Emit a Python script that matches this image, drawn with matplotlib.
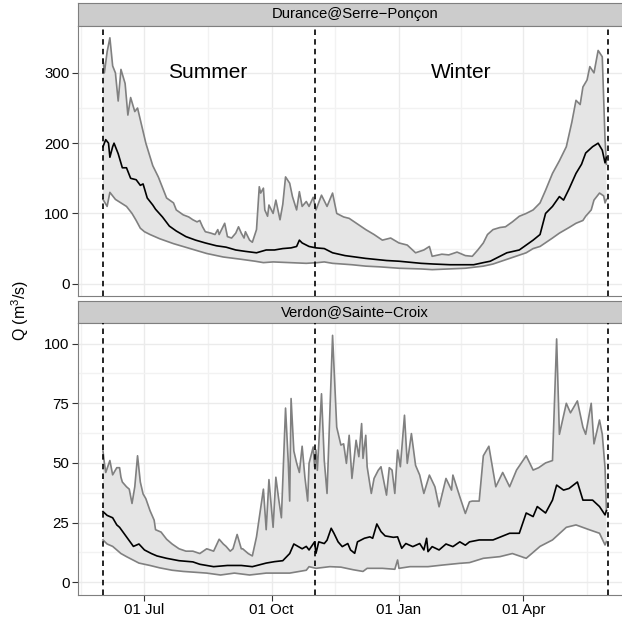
import numpy as np
import matplotlib
matplotlib.use("Agg")
import matplotlib.pyplot as plt
import matplotlib.dates as mdates
from datetime import date, timedelta

plt.rcParams["font.family"] = ["Liberation Sans", "DejaVu Sans"]
plt.rcParams["mathtext.fontset"] = "custom"
plt.rcParams["mathtext.rm"] = "Liberation Sans"
plt.rcParams["mathtext.default"] = "regular"

START = date(2001, 6, 1)

# --- Durance@Serre-Ponçon: day offset from 1 June, discharge (m3/s) ---
dur_up_day = [0, 1.5, 3, 5.8, 7, 9, 11, 13.5, 16, 18, 20.7, 23, 25.5, 28, 31.6, 36, 40,
              46, 51, 53.3, 58, 62, 65.3, 68, 70, 72.5, 74.9, 78.6, 81, 83.4, 84.6, 88.2,
              90.6, 93, 96, 98, 100.3, 102.7, 103.9, 106.3, 108.7, 111, 113, 114.7, 116,
              117.9, 119.5, 120.7, 123.2, 125.6, 128, 130.4, 132.8, 135.2, 137.6, 140,
              142, 144.9, 147.3, 149.7, 152, 154.5, 158, 162, 166.5, 169, 174, 178.5,
              184, 190.6, 196, 202.7, 208, 214.7, 220, 226.8, 232, 236.4, 238.8, 245,
              250.9, 256, 262, 267.7, 271, 275, 278, 282, 287, 291.8, 296, 301.5, 306,
              311, 316, 320.8, 325.6, 330, 335.2, 339, 342.4, 345, 347.3, 350, 352, 355,
              358, 361.7, 363.7, 364]
dur_up_q = [320, 300, 330, 350, 310, 300, 260, 305, 285, 240, 265, 245, 250, 225, 200,
            168, 152, 122, 115, 105, 98, 95, 91, 88, 90, 81, 74, 72, 70, 77, 70, 86, 67,
            65, 72, 81, 72, 65, 74, 62, 59, 77, 138, 129, 136, 105, 96, 112, 100, 119,
            91, 113, 152, 143, 124, 105, 131, 110, 117, 110, 123, 105, 126, 110, 129,
            100, 95, 93, 85, 77, 70, 62, 65, 58, 55, 44, 48, 53, 39, 42, 41, 45, 40, 39,
            48, 58, 70, 77, 80, 81, 88, 96, 100, 105, 115, 133, 157, 175, 195, 230, 261,
            255, 280, 290, 309, 300, 332, 323, 205, 170]

dur_med_day = [0, 2, 4, 5, 7, 8.7, 11, 14.7, 17, 20.7, 24, 27, 29, 32.8, 36, 38.8, 43.6,
               48.4, 53.3, 60.5, 67.7, 74.9, 82, 89.4, 96.6, 103.9, 111, 118.4, 124,
               130.4, 136, 140, 142, 144.9, 149.7, 154.5, 160, 166.5, 175, 190.6, 205,
               214.7, 230, 239, 251, 268, 275, 280, 292, 301.5, 311, 316, 320.8, 325, 330,
               333, 337, 342.4, 346, 349.7, 354, 358, 361, 363.5, 364]
dur_med_q = [195, 205, 200, 180, 195, 200, 185, 165, 165, 150, 148, 140, 142, 122, 112,
             106, 95, 82, 75, 67, 62, 58, 54, 52, 48, 46, 44, 48, 48, 50, 51, 53, 62, 58,
             53, 51, 50, 44, 40, 36, 33, 32, 29, 28, 27, 27, 30, 32, 44, 48, 62, 70, 100,
             110, 124, 119, 135, 157, 170, 186, 195, 200, 190, 172, 180]

dur_lo_day = [0, 3, 5, 9, 13, 17, 21, 24, 27, 30, 34, 41, 51, 63, 75, 87, 99, 110, 116,
              123, 135, 147, 155, 160, 166.5, 180, 190.6, 200, 214.7, 230, 238.8, 250,
              262.9, 275, 282, 291.8, 300, 306.3, 311, 316, 325, 330, 337, 342.4, 347,
              349.7, 353, 355, 359.3, 362, 363.7, 364]
dur_lo_q = [120, 110, 130, 120, 115, 110, 100, 90, 79, 74, 70, 64, 57, 50, 43, 38, 35,
            32, 30, 31, 30, 29, 30, 31, 29, 27, 25, 24, 22, 21, 20, 21, 22, 25, 28, 34,
            40, 44, 50, 53, 65, 72, 80, 86, 90, 96, 105, 119, 129, 125, 115, 120]

# --- Verdon@Sainte-Croix ---
ver_up_day = [0, 1.5, 2.7, 5, 7, 8.7, 10, 12.3, 13.5, 14.7, 17, 19.5, 21.9, 23, 25.5, 27,
              29, 31, 34, 37, 38.8, 42, 46, 50, 55.7, 60, 65.3, 70, 75, 80, 84.6, 87,
              89.4, 92, 94.2, 97.9, 100, 101.5, 105, 108.7, 111, 113, 116, 118.3, 120.7,
              123, 125.6, 127, 129, 132.3, 134, 135, 136.4, 138.8, 140, 142.5, 144, 146,
              148.4, 149.7, 152.1, 153.3, 154.5, 155.7, 158.1, 160.5, 162.9, 166, 169,
              172.6, 174, 176.2, 178.1, 180.5, 183, 185.3, 187, 188.7, 190.2, 191.9,
              194.2, 196, 199.1, 201.5, 205.1, 207.5, 209.9, 211.9, 213.5, 215.2, 218.3,
              220.8, 223.9, 226.8, 229.2, 232.9, 236.4, 240, 243.6, 248.4, 252.1, 253.8,
              258.1, 262.5, 265.4, 267.7, 272.5, 275, 279.8, 284.6, 289.4, 294.2, 299,
              306.3, 311, 315.9, 320.8, 325.6, 328, 330.4, 335.2, 338.8, 343.7, 347.3,
              349.7, 353.3, 355.7, 359.3, 361.7, 363.7, 364]
ver_up_q = [55, 50, 46, 51, 45, 46, 48, 48, 44, 42, 40, 39, 33, 40, 53, 42, 37, 35, 30,
            26, 22, 21, 18, 16, 14, 13, 13, 12, 14, 13, 18, 16, 15, 13, 14, 20, 14, 14,
            12, 11, 19, 27, 39, 22, 43, 23, 44, 35, 27, 73, 50, 34, 77, 55, 50, 46, 57,
            44, 34, 49.8, 56.7, 48.4, 55.4, 46.9, 79, 51, 37.2, 103.5, 65, 57.5, 58,
            49.8, 61.6, 43.5, 59.5, 52.6, 66.5, 51.9, 61.6, 48.4, 37.2, 43.5, 46.9, 48.4,
            36.5, 48, 47, 37.2, 55.4, 48.4, 70, 49.8, 62.3, 49, 44.9, 37.2, 44.9, 40,
            31.6, 43.5, 38.6, 44.9, 35.8, 28.8, 33.7, 34, 34, 53, 57, 40, 46, 40, 47, 53,
            47, 48, 50, 51, 102, 62, 75, 71, 76, 65, 62, 75, 58, 68, 62, 48, 30]

ver_med_day = [0, 3, 7, 10, 12, 17, 22, 26, 30, 35, 39, 46, 55.7, 65, 70, 80, 90, 95, 100,
               108.7, 118, 124, 130, 135, 138.8, 144, 147, 149.7, 153.3, 154.5, 156.9,
               160.5, 162.9, 165.4, 167.8, 170.2, 173.8, 177.4, 179.8, 182.2, 184.6,
               189.5, 193.1, 195.5, 198, 201.5, 204, 210, 213.5, 216, 219.6, 224.4, 229.2,
               232.9, 234.5, 235.2, 238.8, 243.6, 248.4, 253.3, 258.1, 262.9, 265.4,
               272.5, 282, 294, 301.5, 306.3, 311, 314.7, 320.8, 325.6, 328, 333, 337.6,
               343.7, 347.3, 354.5, 359.3, 363, 364]
ver_med_q = [29.6, 28, 27, 24, 23, 19, 15, 16, 13.5, 12, 11, 10, 9, 8.5, 7.5, 6.5, 7, 7,
             7, 6.5, 8, 8.6, 9, 12, 16, 14, 15, 13.5, 16.9, 12.1, 16.9, 16.2, 17.6, 22.6,
             20.5, 16.9, 14.9, 16.2, 13.5, 12.1, 16.9, 18.4, 19, 18.4, 24.4, 21.2, 19.4,
             18.8, 19, 14.2, 16.2, 14.9, 16.2, 13.5, 18.4, 12.8, 14.9, 13.5, 16, 14.9,
             16.9, 15.5, 16.9, 17.7, 17.7, 20.5, 20.5, 29, 27.5, 31.7, 29, 34.4, 40.7,
             38.6, 39.3, 42, 34.4, 34.4, 31.7, 28.2, 30]

ver_lo_day = [0, 3, 7.5, 13, 17, 26, 34, 41, 50, 58, 75, 85, 95, 106, 118, 135, 147,
              149.7, 154.5, 164.1, 172, 181, 188.2, 191.9, 202.7, 211.9, 213.1, 214.8,
              222, 235, 246, 258.1, 265.4, 275, 287, 296.7, 306.3, 316, 325.6, 335.2,
              342.4, 352, 359.3, 363, 364]
ver_lo_q = [17.7, 16, 15, 12, 10.7, 8, 7, 6, 5, 4.5, 3.8, 3, 3.8, 3, 3.8, 3.8, 5, 6.5,
            5.8, 6.5, 6.3, 5.2, 4.5, 5.8, 5.8, 5.4, 9.3, 5.8, 6.5, 6.5, 7.2, 7.9, 8.2,
            10, 10.7, 12, 10, 15, 17.7, 23, 24, 21.9, 20.5, 15.6, 17]

panel_titles = ["Durance@Serre\u2212Pon\u00e7on", "Verdon@Sainte\u2212Croix"]
season_day = [0, 153, 365]          # 1 Jun, 1 Nov, 1 Jun
season_labels = ["Summer", "Winter"]
season_label_q = 300


def to_dates(days):
    return [mdates.date2num(START + timedelta(days=float(d))) for d in days]


W, H = 622, 624
fig = plt.figure(figsize=(W / 100, H / 100), dpi=100)

# the original panel runs past the right edge of the picture
x0, x1 = 77.8, 631.6
panels = [
    dict(strip=(3, 25.5), panel=(25.5, 296)),
    dict(strip=(301, 323), panel=(323, 594.5)),
]
series = [
    (dur_up_day, dur_up_q, dur_med_day, dur_med_q, dur_lo_day, dur_lo_q),
    (ver_up_day, ver_up_q, ver_med_day, ver_med_q, ver_lo_day, ver_lo_q),
]
yticks = [[0, 100, 200, 300], [0, 25, 50, 75, 100]]

xmin = mdates.date2num(START) - 18.2
xmax = mdates.date2num(START + timedelta(days=364)) + 18.2
major = [mdates.date2num(date(2001, 7, 1)), mdates.date2num(date(2001, 10, 1)),
         mdates.date2num(date(2002, 1, 1)), mdates.date2num(date(2002, 4, 1))]
minor = [major[0] - 46, (major[0] + major[1]) / 2, (major[1] + major[2]) / 2,
         (major[2] + major[3]) / 2, major[3] + 46]

for i, (p, s) in enumerate(zip(panels, series)):
    ud, uq, md, mq, ld, lq = s
    sy0, sy1 = p["strip"]
    py0, py1 = p["panel"]

    sax = fig.add_axes([x0 / W, 1 - sy1 / H, (x1 - x0) / W, (sy1 - sy0) / H])
    sax.set_facecolor("#CCCCCC")
    sax.set_xticks([])
    sax.set_yticks([])
    for sp in sax.spines.values():
        sp.set_color("#7F7F7F")
        sp.set_linewidth(0.8)
    sax.text(0.5, 0.5, panel_titles[i], ha="center", va="center", fontsize=10.7,
             transform=sax.transAxes)

    ax = fig.add_axes([x0 / W, 1 - py1 / H, (x1 - x0) / W, (py1 - py0) / H])
    ymax = max(uq)
    ax.set_ylim(-0.05 * ymax, 1.05 * ymax)
    ax.set_xlim(xmin, xmax)

    # grid
    for v in minor:
        ax.axvline(v, color="#F2F2F2", lw=1.0, zorder=0)
    for v in major:
        ax.axvline(v, color="#EBEBEB", lw=1.0, zorder=0)
    for a, b in zip(yticks[i][:-1], yticks[i][1:]):
        ax.axhline((a + b) / 2, color="#F2F2F2", lw=1.0, zorder=0)
    for v in yticks[i]:
        ax.axhline(v, color="#EBEBEB", lw=1.0, zorder=0)

    ux, lx, mx = to_dates(ud), to_dates(ld), to_dates(md)
    ax.fill(np.concatenate([ux, lx[::-1]]), np.concatenate([uq, lq[::-1]]),
            color="#E5E5E5", lw=0, zorder=1)
    ax.plot(ux, uq, color="#808080", lw=1.2, zorder=2)
    ax.plot(lx, lq, color="#808080", lw=1.2, zorder=2)
    ax.plot(mx, mq, color="black", lw=1.2, zorder=3)

    for d in season_day:
        ax.axvline(mdates.date2num(START + timedelta(days=d)), color="black", lw=1.2,
                   dashes=(3.3, 2.5), zorder=4)

    if i == 0:
        for k, lab in enumerate(season_labels):
            xm = (season_day[k] + season_day[k + 1]) / 2
            ax.text(mdates.date2num(START + timedelta(days=xm)), season_label_q, lab,
                    ha="center", va="center", fontsize=15)

    ax.set_yticks(yticks[i])
    ax.set_xticks(major)
    ax.xaxis.set_major_formatter(mdates.DateFormatter("%d %b"))
    ax.tick_params(axis="both", direction="out", length=4, width=0.8, color="#333333",
                   labelsize=10.8, labelcolor="black", pad=2)
    if i == 0:
        ax.tick_params(axis="x", length=0, labelbottom=False)
    for sp in ax.spines.values():
        sp.set_color("#7F7F7F")
        sp.set_linewidth(0.8)

fig.text(20 / W, 1 - 310 / H, "Q (m$^3$/s)", rotation=90, ha="center", va="center",
         fontsize=11.5)

fig.savefig("out.png", dpi=100)
